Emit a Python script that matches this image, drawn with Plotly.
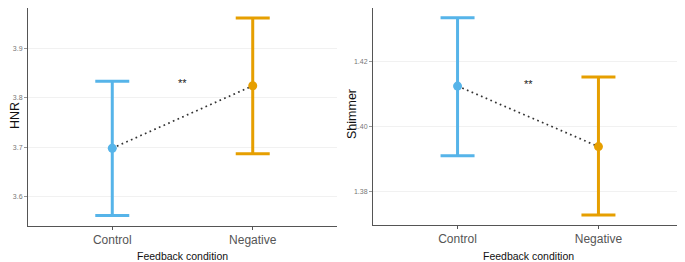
import plotly.graph_objects as go

conditions = ["Control", "Negative"]
hnr_mean = [3.698, 3.824]
hnr_upper = [3.833, 3.961]
hnr_lower = [3.562, 3.687]
shim_mean = [1.4125, 1.3939]
shim_upper = [1.4335, 1.4153]
shim_lower = [1.3911, 1.3729]
colors = ["#56B4E9", "#E69F00"]
hnr_ticks = [3.6, 3.7, 3.8, 3.9]
shim_ticks = [1.38, 1.40, 1.42]

OFF = 8  # page body margin
W, H = 685 - OFF, 262 - OFF
FONT = "Liberation Sans, Arial"
fig = go.Figure()


def px(x):
    return (x - OFF) / W


def py(y):
    return 1 - (y - OFF) / H


panels = [
    (hnr_mean, hnr_upper, hnr_lower, "HNR", [3.541, 3.981], hnr_ticks, "%.1f", (28, 337), (6, 226), 1, 15),
    (shim_mean, shim_upper, shim_lower, "Shimmer", [1.3698, 1.4365], shim_ticks, "%.2f", (373, 683), (3, 225), 2, 352),
]

for mean, up, lo, name, yr, ticks, fmt, (x0, x1), (yt, yb), k, tx in panels:
    xa = "x" if k == 1 else "x2"
    ya = "y" if k == 1 else "y2"
    fig.add_trace(go.Scatter(
        x=conditions, y=mean, mode="lines", xaxis=xa, yaxis=ya,
        line=dict(color="#333333", width=1.7, dash="1.7px,3.4px"), showlegend=False, hoverinfo="skip"))
    for i, c in enumerate(conditions):
        fig.add_trace(go.Scatter(
            x=[c], y=[mean[i]], mode="markers", xaxis=xa, yaxis=ya,
            marker=dict(color=colors[i], size=9),
            error_y=dict(type="data", symmetric=False,
                         array=[up[i] - mean[i]], arrayminus=[mean[i] - lo[i]],
                         color=colors[i], thickness=3, width=17),
            showlegend=False))
    axis_x = dict(type="category", categoryorder="array", categoryarray=conditions,
                  range=[-0.6, 1.6], domain=[max(px(x0), 0), min(px(x1), 1)], anchor=ya, automargin=False,
                  showline=True, linecolor="#555555", linewidth=1,
                  ticks="outside", ticklen=3, tickcolor="#555555",
                  tickfont=dict(family=FONT, size=12, color="#555555"),
                  showgrid=False, zeroline=False)
    axis_y = dict(range=yr, domain=[py(yb), min(py(yt), 1)], anchor=xa, automargin=False,
                  tickvals=ticks, ticktext=[fmt % t for t in ticks],
                  showline=True, linecolor="#555555", linewidth=1,
                  ticks="outside", ticklen=3, tickcolor="#999999",
                  tickfont=dict(family=FONT, size=7, color="#777777"),
                  showgrid=True, gridcolor="#f1f1f1", gridwidth=1, zeroline=False)
    if k == 1:
        fig.update_layout(xaxis=axis_x, yaxis=axis_y)
    else:
        fig.update_layout(xaxis2=axis_x, yaxis2=axis_y)
    fig.add_annotation(x=px(tx), y=py((yt + yb) / 2), xref="paper", yref="paper",
                       xanchor="center", yanchor="middle",
                       text=name, textangle=-90, showarrow=False,
                       font=dict(family=FONT, size=12.5, color="#111111"))
    fig.add_annotation(x=px((x0 + x1) / 2), y=py(256), xref="paper", yref="paper",
                       xanchor="center", yanchor="middle",
                       text="Feedback condition", showarrow=False,
                       font=dict(family=FONT, size=10.5, color="#111111"))

fig.add_annotation(x=0.5, y=3.829, xref="x", yref="y", text="**", showarrow=False,
                   font=dict(family=FONT, size=11, color="#222222"))
fig.add_annotation(x=0.5, y=1.4131, xref="x2", yref="y2", text="**", showarrow=False,
                   font=dict(family=FONT, size=11, color="#222222"))

fig.update_layout(width=W, height=H, margin=dict(l=0, r=0, t=0, b=0, autoexpand=False),
                  plot_bgcolor="white", paper_bgcolor="white")
fig.write_html("out.html")
